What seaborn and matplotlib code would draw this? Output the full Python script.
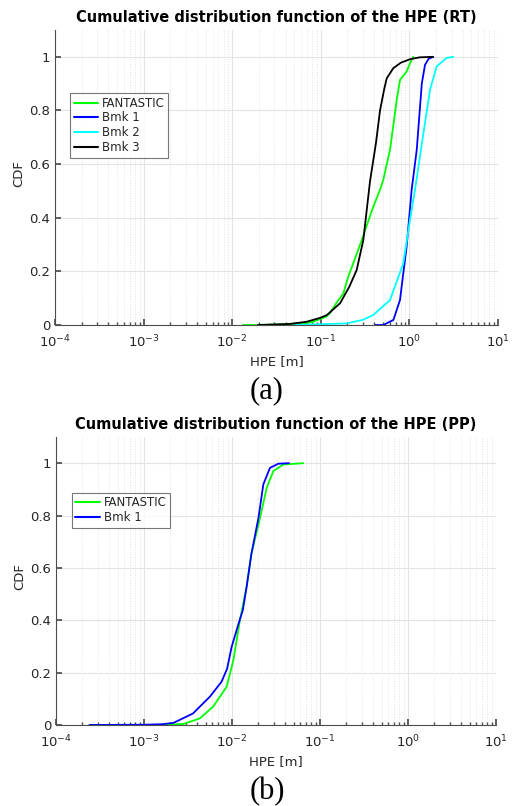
import numpy as np
import pandas as pd
import seaborn as sns
import matplotlib
matplotlib.use("Agg")
import matplotlib.pyplot as plt
from matplotlib.ticker import LogLocator, NullFormatter, FixedLocator

# ---- (a) real-time HPE empirical CDFs ----
rt_fantastic_x = [0.0132, 0.0186, 0.04, 0.063, 0.082, 0.115, 0.127, 0.149, 0.18, 0.204, 0.251,
                  0.29, 0.354, 0.39, 0.466, 0.507, 0.604, 0.72, 0.784, 0.93, 1.016, 1.107]
rt_fantastic_y = [0.0, 0.0, 0.003, 0.006, 0.012, 0.031, 0.044, 0.081, 0.118, 0.18, 0.26,
                  0.317, 0.40, 0.44, 0.504, 0.541, 0.653, 0.84, 0.914, 0.945, 0.976, 1.0]

rt_bmk1_x = [0.414, 0.507, 0.66, 0.783, 0.93, 1.06, 1.21, 1.38, 1.50, 1.65, 1.86]
rt_bmk1_y = [0.0, 0.0, 0.019, 0.093, 0.292, 0.504, 0.653, 0.90, 0.97, 0.993, 1.0]

rt_bmk2_x = [0.052, 0.196, 0.298, 0.39, 0.604, 0.853, 1.016, 1.156, 1.44, 1.71, 2.03, 2.63, 3.13]
rt_bmk2_y = [0.0, 0.006, 0.019, 0.037, 0.093, 0.23, 0.392, 0.504, 0.715, 0.877, 0.964, 0.996, 1.0]

rt_bmk3_x = [0.0195, 0.045, 0.069, 0.097, 0.117, 0.165, 0.21, 0.254, 0.302, 0.359, 0.42,
             0.466, 0.52, 0.555, 0.66, 0.8, 1.016, 1.3, 1.85]
rt_bmk3_y = [0.0, 0.004, 0.012, 0.026, 0.037, 0.081, 0.143, 0.205, 0.317, 0.535, 0.68,
             0.80, 0.88, 0.92, 0.958, 0.978, 0.991, 0.998, 1.0]

# ---- (b) post-processed HPE empirical CDFs ----
pp_fantastic_x = [0.00024, 0.00165, 0.0028, 0.0043, 0.0061, 0.0087, 0.0104, 0.0123, 0.0146,
                  0.0166, 0.0208, 0.0248, 0.0295, 0.0383, 0.0645]
pp_fantastic_y = [0.0, 0.0, 0.004, 0.025, 0.07, 0.146, 0.25, 0.40, 0.526,
                  0.653, 0.79, 0.906, 0.97, 0.995, 1.0]

pp_bmk1_x = [0.00024, 0.001, 0.0016, 0.00216, 0.0036, 0.0056, 0.0076, 0.0088, 0.0099, 0.0117,
             0.0133, 0.0147, 0.0166, 0.02, 0.0227, 0.027, 0.0336, 0.0445]
pp_bmk1_y = [0.0, 0.001, 0.003, 0.008, 0.044, 0.108, 0.165, 0.215, 0.298, 0.38,
             0.44, 0.53, 0.653, 0.792, 0.919, 0.982, 0.998, 1.0]

palette = {"FANTASTIC": "#00ff00", "Bmk 1": "#0000ff", "Bmk 2": "#00ffff", "Bmk 3": "#000000"}


def frame(series):
    parts = []
    for name, xs, ys in series:
        parts.append(pd.DataFrame({"HPE": xs, "CDF": ys, "method": name}))
    return pd.concat(parts, ignore_index=True)


df_rt = frame([("FANTASTIC", rt_fantastic_x, rt_fantastic_y),
               ("Bmk 1", rt_bmk1_x, rt_bmk1_y),
               ("Bmk 2", rt_bmk2_x, rt_bmk2_y),
               ("Bmk 3", rt_bmk3_x, rt_bmk3_y)])
df_pp = frame([("FANTASTIC", pp_fantastic_x, pp_fantastic_y),
               ("Bmk 1", pp_bmk1_x, pp_bmk1_y)])

sns.set_theme(style="white")
plt.rcParams["font.family"] = ["DejaVu Sans"]
plt.rcParams["mathtext.default"] = "regular"

fig = plt.figure(figsize=(5.12, 8.06), dpi=100)
ax_a = fig.add_axes([55 / 512, 1 - 325 / 806, 443 / 512, 295 / 806])
ax_b = fig.add_axes([56 / 512, 1 - 725 / 806, 440 / 512, 288 / 806])

text_col = "#262626"
axis_col = "#4d4d4d"


def style(ax, df, title, legend_anchor):
    sns.lineplot(data=df, x="HPE", y="CDF", hue="method", palette=palette,
                 sort=False, estimator=None, units="method", linewidth=1.3, ax=ax,
                 legend=True)
    ax.set_xscale("log")
    ax.set_xlim(1e-4, 10)
    ax.set_ylim(0, 1.1)
    ax.yaxis.set_major_locator(FixedLocator([0, 0.2, 0.4, 0.6, 0.8, 1.0]))
    ax.set_yticklabels(["0", "0.2", "0.4", "0.6", "0.8", "1"])
    ax.xaxis.set_major_locator(LogLocator(base=10, numticks=10))
    ax.xaxis.set_minor_locator(LogLocator(base=10, subs=np.arange(2, 10), numticks=20))
    ax.xaxis.set_minor_formatter(NullFormatter())
    ax.grid(True, which="major", color="#e3e3e3", linewidth=0.8, linestyle="-")
    ax.grid(True, which="minor", axis="x", color="#e3e3e3", linewidth=0.7, linestyle=":")
    ax.set_axisbelow(True)
    for side in ("top", "right"):
        ax.spines[side].set_visible(False)
    for side in ("left", "bottom"):
        ax.spines[side].set_color(axis_col)
        ax.spines[side].set_linewidth(0.8)
    ax.tick_params(which="both", direction="in", colors=axis_col, labelcolor=text_col,
                   labelsize=9.5, left=True, bottom=True)
    ax.tick_params(axis="x", which="major", pad=6)
    ax.tick_params(which="major", length=4)
    ax.tick_params(which="minor", length=2)
    ax.set_xlabel("HPE [m]", fontsize=9.5, color=text_col, labelpad=4)
    ax.set_ylabel("CDF", fontsize=9.5, color=text_col, labelpad=3)
    ax.yaxis.label.set_y(0.515)
    ax.set_title(title, fontsize=10.5, fontweight="bold", color="black", pad=6)
    leg = ax.legend(loc="upper left", bbox_to_anchor=legend_anchor, borderaxespad=0,
                    fontsize=8.5, frameon=True, fancybox=False, handlelength=2.1,
                    handletextpad=0.3, labelspacing=0.15, borderpad=0.3, title=None)
    leg.get_frame().set_edgecolor("#555555")
    leg.get_frame().set_linewidth(0.8)
    for line in leg.get_lines():
        line.set_linewidth(1.5)


style(ax_a, df_rt, "Cumulative distribution function of the HPE (RT)", (0.034, 0.786))
style(ax_b, df_pp, "Cumulative distribution function of the HPE (PP)", (0.036, 0.806))

fig.text(267 / 512, 1 - 391 / 806, "(a)", ha="center", va="center",
         fontsize=22, family="Liberation Serif", color="black")
fig.text(267 / 512, 1 - 792 / 806, "(b)", ha="center", va="center",
         fontsize=22, family="Liberation Serif", color="black")

fig.savefig("out.png", dpi=100, facecolor="white")
